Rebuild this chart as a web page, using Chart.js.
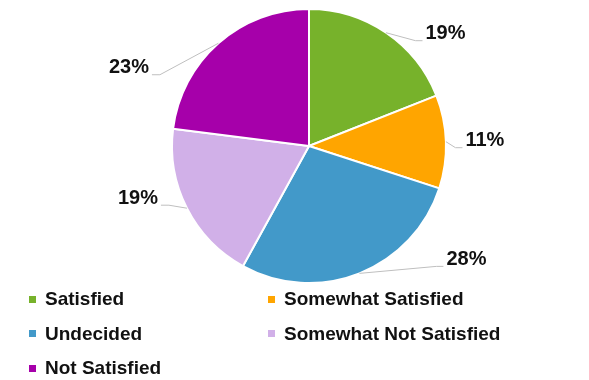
<!DOCTYPE html>
<html>
<head>
<meta charset="utf-8">
<script src="https://cdn.jsdelivr.net/npm/chart.js@4/dist/chart.umd.min.js"></script>
<style>
  html, body { margin: 0; padding: 0; background: #fff; }
  #wrap { position: relative; width: 589px; height: 380px; }
  #c { position: absolute; left: 0; top: 0; }
  .lg { position: absolute; display: flex; align-items: center; font-family: "Liberation Sans", Arial, sans-serif; font-weight: bold; font-size: 19px; color: #111; white-space: nowrap; height: 24px; }
  .lg i { display: inline-block; width: 7px; height: 7px; margin-right: 9px; }
</style>
</head>
<body>
<div id="wrap">
  <canvas id="c" width="589" height="380"></canvas>
</div>
<script>
const categories = ["Satisfied", "Somewhat Satisfied", "Undecided", "Somewhat Not Satisfied", "Not Satisfied"];
const values = [19, 11, 28, 19, 23];
const valueLabels = ["19%", "11%", "28%", "19%", "23%"];
const colors = ["#77B22B", "#FFA500", "#4299C9", "#D1B0E8", "#A600AA"];

// label placement offsets (relative to slice edge at its mid-angle)
const labelOffsets = [[59.5, 1], [39, -1], [107, -14], [-49, -10], [-89.5, 24.5]];

const labelPlugin = {
  id: 'outLabels',
  afterDatasetsDraw(chart) {
    const ctx = chart.ctx;
    const meta = chart.getDatasetMeta(0);
    ctx.save();
    ctx.font = 'bold 20px "Liberation Sans", Arial, sans-serif';
    ctx.textBaseline = 'middle';
    ctx.textAlign = 'center';
    meta.data.forEach((arc, i) => {
      const p = arc.getProps(['x', 'y', 'startAngle', 'endAngle', 'outerRadius'], true);
      const mid = (p.startAngle + p.endAngle) / 2;
      const ax = p.x + Math.cos(mid) * p.outerRadius;
      const ay = p.y + Math.sin(mid) * p.outerRadius;
      const lx = ax + labelOffsets[i][0];
      const ly = ay + labelOffsets[i][1];
      const txt = valueLabels[i];
      const w = ctx.measureText(txt).width;
      const right = labelOffsets[i][0] > 0;
      const endX = right ? lx - w / 2 - 3 : lx + w / 2 + 3;
      const endY = ly + 7;
      const elbowX = right ? endX - 7 : endX + 8;
      ctx.strokeStyle = '#BFBFBF';
      ctx.lineWidth = 1;
      ctx.beginPath();
      ctx.moveTo(ax, ay);
      ctx.lineTo(elbowX, endY);
      ctx.lineTo(endX, endY);
      ctx.stroke();
      ctx.fillStyle = '#111';
      ctx.fillText(txt, lx, ly);
    });
    ctx.restore();
  }
};

new Chart(document.getElementById('c'), {
  type: 'pie',
  data: {
    labels: categories,
    datasets: [{
      data: values,
      backgroundColor: colors,
      borderColor: '#ffffff',
      borderWidth: 2
    }]
  },
  options: {
    responsive: false,
    animation: false,
    layout: { padding: { top: 8, bottom: 96, left: 29, right: 0 } },
    plugins: { legend: { display: false }, tooltip: { enabled: false } }
  },
  plugins: [labelPlugin]
});

// legend (two columns)
const wrap = document.getElementById('wrap');
categories.forEach((name, i) => {
  const col = i % 2, row = Math.floor(i / 2);
  const d = document.createElement('div');
  d.className = 'lg';
  d.style.left = (col === 0 ? 29 : 268) + 'px';
  d.style.top = (287 + row * 34.5) + 'px';
  const sq = document.createElement('i');
  sq.style.background = colors[i];
  d.appendChild(sq);
  d.appendChild(document.createTextNode(name));
  wrap.appendChild(d);
});
</script>
</body>
</html>
